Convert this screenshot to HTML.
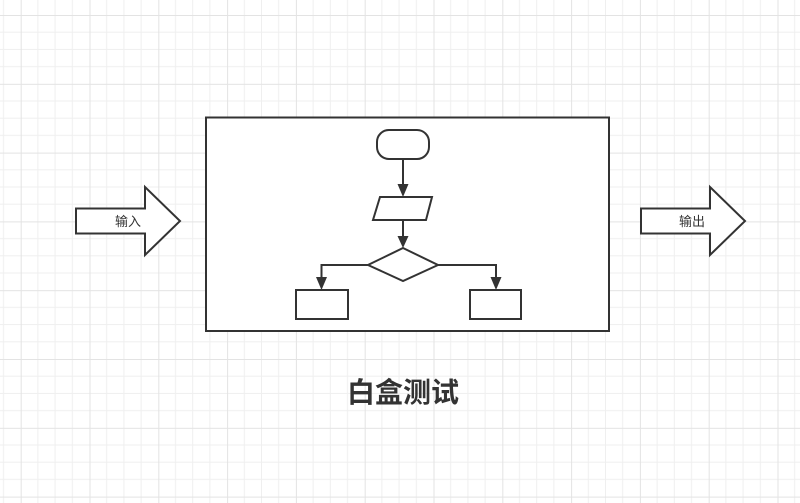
<!DOCTYPE html>
<html><head><meta charset="utf-8"><style>
html,body{margin:0;padding:0;background:#fff;width:800px;height:503px;overflow:hidden}
</style></head><body>
<svg width="800" height="503" viewBox="0 0 800 503" xmlns="http://www.w3.org/2000/svg">
<defs>
<pattern id="g" x="20.7" y="15" width="68.8" height="68.8" patternUnits="userSpaceOnUse">
<path d="M17.2 0V68.8M34.4 0V68.8M51.6 0V68.8M0 17.2H68.8M0 34.4H68.8M0 51.6H68.8" stroke="#efefef" stroke-width="1"/>
<path d="M0.5 0V68.8M0 0.5H68.8" stroke="#e3e3e3" stroke-width="1"/>
</pattern>
</defs>
<rect width="800" height="503" fill="url(#g)"/>
<g fill="#fff" stroke="#333" stroke-width="2">
<polygon points="76,208.5 145,208.5 145,187 180,221 145,255 145,233.5 76,233.5"/>
<polygon points="641,208.5 710,208.5 710,187 745,221 710,255 710,233.5 641,233.5"/>
<rect x="206" y="117.5" width="403" height="213.5"/>
<rect x="377" y="130" width="52" height="29" rx="12"/>
<polygon points="380,197 432,197 426,220 373,220"/>
<polygon points="403,248 438,265 403,281 368,265"/>
<rect x="296" y="290" width="52" height="29"/>
<rect x="470" y="290" width="51" height="29"/>
</g>
<g stroke="#333" stroke-width="2" fill="none">
<path d="M403 159V186"/><path d="M403 220V238"/>
<path d="M368 265H321.5V279"/><path d="M438 265H496V279"/>
</g>
<g fill="#333">
<polygon points="397.5,184 408.5,184 403,197"/>
<polygon points="397.5,236 408.5,236 403,248"/>
<polygon points="316,277 327,277 321.5,290"/>
<polygon points="490.5,277 501.5,277 496,290"/>
</g>
<g font-family="Liberation Sans, Noto Sans CJK SC, sans-serif" fill="#333">
<text x="128" y="226" font-size="13" text-anchor="middle">输入</text>
<text x="692" y="226" font-size="13" text-anchor="middle">输出</text>
<text x="403" y="402" font-size="28" font-weight="bold" text-anchor="middle">白盒测试</text>
</g>
</svg>
</body></html>
